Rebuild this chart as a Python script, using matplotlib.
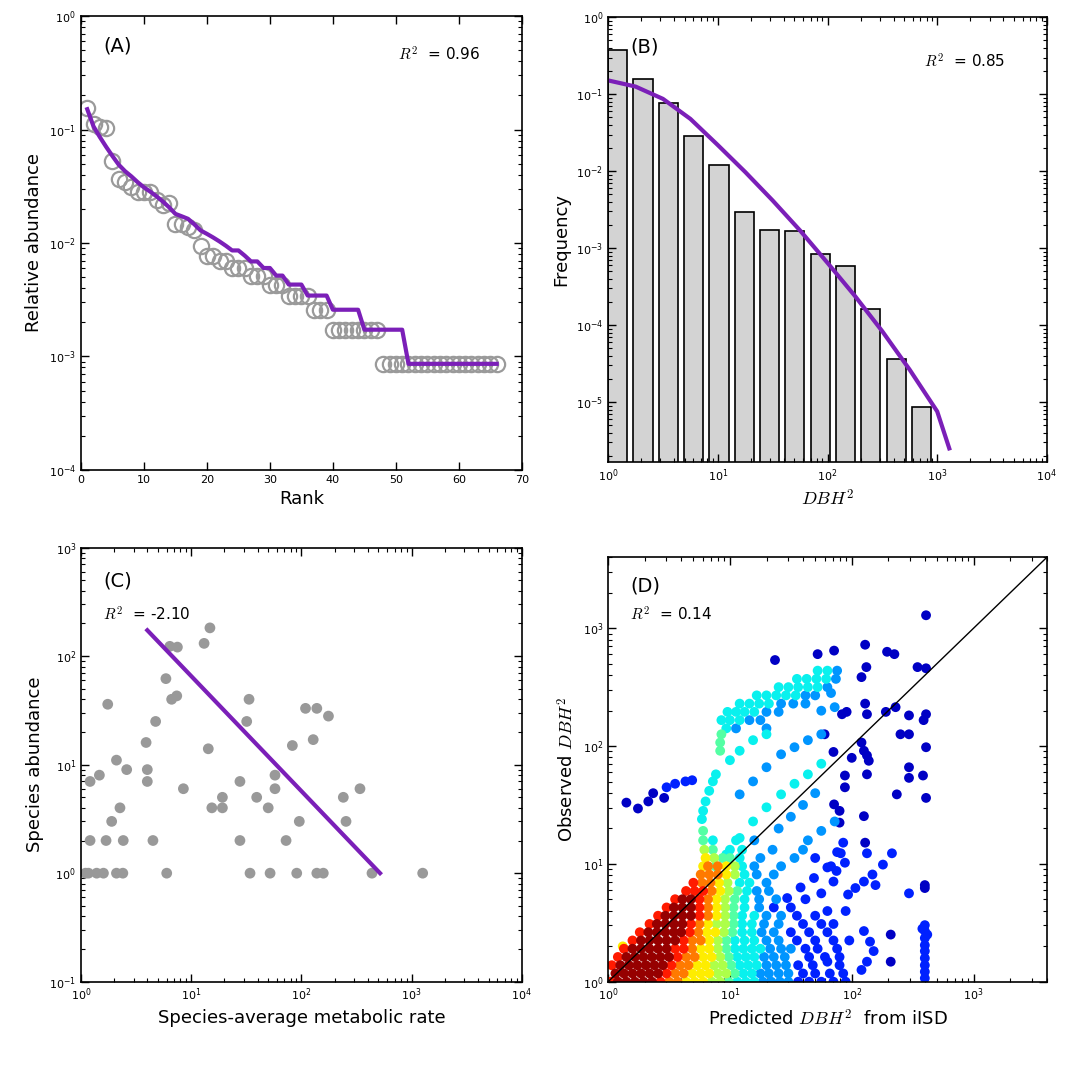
import numpy as np
import matplotlib
matplotlib.use("Agg")
import matplotlib.pyplot as plt

plt.rcParams["mathtext.fontset"] = "cm"
plt.rcParams["font.family"] = "DejaVu Sans"

PURPLE = "#7b1fb8"

# ---- (A) rank abundance: species counts (relative = count / total) ----
a_rank = list(range(1, 67))
a_counts = [182, 131, 123, 121, 62, 43, 40, 36, 33, 33, 33, 28, 25, 26, 17, 17,
            16, 15, 11, 9, 9, 8, 8, 7, 7, 7, 6, 6, 6, 5, 5, 5, 4, 4, 4, 4,
            3, 3, 3] + [2] * 8 + [1] * 19
a_pred = [176, 124, 100, 82, 68, 57, 50, 45, 40, 36, 33, 30, 27, 24, 21, 20,
          19, 17, 15, 14, 13, 12, 11, 10, 10, 9, 8, 8, 7, 7, 6, 6, 5, 5, 5,
          4, 4, 4, 4, 3, 3, 3, 3, 3] + [2] * 7 + [1] * 15
a_total = 1163

# ---- (B) DBH^2 histogram ----
b_edges = [1.0, 1.70, 2.90, 4.92, 8.38, 14.3, 24.3, 41.2, 70.2, 119, 204, 346, 589, 1000]
b_freq = [0.376, 0.157, 0.0776, 0.0285, 0.0119, 0.00293, 0.00174, 0.00167,
          0.00083, 0.000586, 0.000163, 3.65e-5, 8.6e-6]
b_fit_logx = [0, 0.25, 0.5, 0.75, 1.0, 1.25, 1.5, 1.75, 2.0, 2.25, 2.5, 2.75, 3.0, 3.11]
b_fit_logy = [-0.82, -0.9, -1.06, -1.32, -1.66, -2.01, -2.38, -2.77, -3.19,
              -3.62, -4.08, -4.58, -5.12, -5.6]

# ---- (C) species abundance vs metabolic rate ----
c_rate = [1.21, 1.47, 1.75, 2.1, 2.6, 1.9, 2.26, 1.21, 1.69, 2.42, 4.5, 1.1, 1.17,
          1.39, 1.6, 2.1, 2.4, 3.9, 4.0, 4.0, 4.76, 5.9, 6.0, 6.4, 7.5, 6.65, 7.4,
          8.5, 13.1, 14.8, 14.3, 15.4, 19.2, 19.2, 27.7, 27.7, 31.9, 33.5, 34.2,
          39.3, 50, 52, 57.6, 57.6, 72.6, 82.8, 90.7, 95.7, 109, 128, 138, 138,
          158, 176, 240, 254, 340, 437, 1260]
c_abund = [7, 8, 36, 11, 9, 3, 4, 2, 2, 2, 2, 1, 1, 1, 1, 1, 1, 16, 9, 7, 25, 62,
           1, 123, 121, 40, 43, 6, 131, 182, 14, 4, 5, 4, 7, 2, 25, 40, 1, 5, 4,
           1, 6, 8, 2, 15, 1, 3, 33, 17, 33, 1, 1, 28, 5, 3, 6, 1, 1]
c_fit_x = [4.0, 517]
c_fit_y = [173, 1]

# ---- (D) observed vs predicted DBH^2, log10 values read per density colour ----
# each entry: (log10 observed, [log10 predicted, ...])
d_dark = [
    (1.52, [0.15]), (1.47, [0.245]), (1.53, [0.33]), (1.60, [0.37]), (1.56, [0.46]),
    (3.11, [2.61]), (2.86, [2.11]), (2.81, [1.855]), (2.80, [2.29]), (2.78, [1.72, 2.35]),
    (2.73, [1.37]), (2.67, [2.12, 2.54]), (2.66, [2.61]), (2.585, [2.08]),
    (2.36, [2.11]), (2.33, [2.36]), (2.29, [1.958, 2.28]), (2.27, [1.92, 2.125, 2.61]),
    (2.26, [2.47]), (2.22, [2.59]), (2.10, [1.777, 2.40, 2.47]), (2.03, [2.08]),
    (1.99, [2.61]), (1.96, [2.10]), (1.95, [1.85]), (1.92, [2.125]),
    (1.90, [2.0]), (1.875, [2.14]), (1.82, [2.47]), (1.76, [2.125]),
    (1.75, [1.944, 2.585]), (1.73, [2.47]), (1.65, [1.944]), (1.59, [2.37]),
    (1.56, [2.61]), (1.505, [1.855]), (1.45, [1.90]), (1.405, [2.10]),
    (1.35, [1.90]), (1.18, [2.11]), (0.82, [2.6]), (0.795, [2.6]),
    (0.40, [2.32]), (0.17, [2.32]),
]
d_blue = [
    (1.71, [0.69]), (1.70, [0.635]), (1.68, [0.55]), (1.65, [0.48]),
    (1.18, [1.93]), (1.1, [1.88]), (1.09, [1.91, 2.125, 2.33]), (1.05, [1.7]),
    (1.01, [1.944]), (0.994, [2.256]), (0.98, [1.83]), (0.97, [1.80]),
    (0.94, [1.875]), (0.91, [2.17]), (0.88, [1.69]), (0.85, [1.85, 2.10]),
    (0.82, [2.195]), (0.80, [1.58]), (0.795, [2.03]), (0.75, [1.75, 2.47]),
    (0.74, [1.97]), (0.71, [1.47]), (0.70, [1.62]), (0.63, [1.36, 1.5]),
    (0.6, [1.8, 1.95]), (0.56, [1.55, 1.7]), (0.49, [1.6, 1.75, 1.85]),
    (0.48, [2.6]), (0.45, [2.58]), (0.43, [2.10, 2.6]), (0.42, [1.5, 1.65, 1.8]),
    (0.40, [2.62]), (0.37, [2.6]), (0.35, [1.55, 1.7, 1.85, 1.98]), (0.34, [2.15]),
    (0.31, [2.6]), (0.28, [1.62, 1.72, 1.88]), (0.26, [2.18, 2.6]),
    (0.21, [1.65, 1.78, 1.9]), (0.20, [2.6]), (0.17, [1.8, 2.125]),
    (0.14, [1.56, 1.68, 1.9, 2.6]), (0.10, [2.08]), (0.085, [2.6]),
    (0.07, [1.6, 1.7, 1.82, 1.93]), (0.03, [2.6]),
    (0.0, [1.56, 1.65, 1.75, 1.85, 1.95]),
]
d_light = [
    (2.64, [1.88]), (2.57, [1.87]), (2.50, [1.8]), (2.45, [1.83]),
    (2.43, [1.62, 1.7]), (2.36, [1.42, 1.52, 1.62]), (2.33, [1.86]),
    (2.30, [1.75]), (2.29, [1.3, 1.4]), (2.22, [1.16, 1.25]), (2.15, [1.05, 1.3]),
    (2.10, [1.75]), (2.05, [1.64]), (1.99, [1.53]), (1.93, [1.42]), (1.82, [1.30]),
    (1.70, [1.19]), (1.6, [1.7]), (1.59, [1.08]), (1.5, [1.6]), (1.4, [1.5]),
    (1.36, [1.86]), (1.3, [1.4]), (1.28, [1.75]), (1.2, [1.2, 1.64]),
    (1.12, [1.35, 1.6]), (1.05, [1.25, 1.53]), (0.98, [1.2, 1.42]),
    (0.91, [1.22, 1.36]), (0.84, [1.3]), (0.77, [1.22, 1.32]), (0.70, [1.24, 1.38]),
    (0.63, [1.24]), (0.56, [1.3, 1.42]), (0.49, [1.28, 1.4]), (0.42, [1.26, 1.36]),
    (0.35, [1.3, 1.4]), (0.28, [1.33, 1.42, 1.5]), (0.21, [1.28, 1.36, 1.45]),
    (0.14, [1.3, 1.38, 1.46]), (0.07, [1.25, 1.32, 1.4, 1.48]),
    (0.0, [1.27, 1.34, 1.41, 1.48]),
]
d_cyan = [
    (2.64, [1.72, 1.8]), (2.57, [1.55, 1.63, 1.71, 1.79]),
    (2.50, [1.4, 1.48, 1.56, 1.64, 1.72]), (2.43, [1.22, 1.3, 1.38, 1.46, 1.54]),
    (2.36, [1.08, 1.16, 1.24, 1.32]), (2.29, [0.98, 1.05, 1.12, 1.2]),
    (2.22, [0.93, 1.0, 1.08]), (2.15, [0.97]), (2.10, [1.30]), (2.05, [1.19]),
    (1.96, [1.08]), (1.88, [1.0]), (1.85, [1.75]), (1.76, [0.885, 1.64]),
    (1.70, [0.86]), (1.68, [1.53]), (1.62, [0.83]), (1.59, [1.42]),
    (1.53, [0.8]), (1.48, [1.30]), (1.45, [0.78]), (1.38, [0.77]),
    (1.36, [1.19]), (1.22, [1.08]), (1.2, [0.86, 1.05]), (1.12, [1.0, 1.1]),
    (1.08, [0.97]), (1.05, [1.08]), (0.98, [1.1]), (0.91, [1.12]),
    (0.84, [1.08, 1.16]), (0.77, [1.14]), (0.70, [1.12]), (0.63, [1.12]),
    (0.56, [1.1, 1.2]), (0.49, [1.1, 1.18]), (0.42, [1.1, 1.18]),
    (0.35, [1.04, 1.12, 1.2]), (0.28, [1.04, 1.11, 1.18, 1.25]),
    (0.21, [1.06, 1.13, 1.2]), (0.14, [1.08, 1.15, 1.22]), (0.07, [1.11, 1.18]),
    (0.0, [1.06, 1.13, 1.2]),
]
d_teal = [
    (2.10, [0.93]), (2.03, [0.92]), (1.96, [0.92]), (1.28, [0.78]), (1.2, [0.78]),
    (1.12, [0.86]), (1.05, [0.94, 1.0]), (0.98, [0.88]), (0.77, [1.06]),
    (0.70, [1.04]), (0.63, [1.03]), (0.56, [1.03]), (0.49, [1.03]),
    (0.42, [1.02]), (0.35, [0.97]), (0.28, [0.97]), (0.21, [0.99]),
    (0.14, [1.01]), (0.07, [1.04]), (0.0, [0.99]),
]
d_lime = [
    (1.12, [0.79]), (1.05, [0.87]), (0.98, [1.04]), (0.91, [1.04]), (0.84, [0.98]),
    (0.77, [0.99]), (0.70, [0.96]), (0.63, [0.96]), (0.56, [0.96]),
    (0.49, [0.89, 0.96]), (0.42, [0.95]), (0.35, [0.9]), (0.28, [0.9]),
    (0.21, [0.92]), (0.14, [0.87, 0.94]), (0.07, [0.9, 0.97]), (0.0, [0.85, 0.92]),
]
d_yellow = [
    (1.05, [0.8]), (0.98, [0.78, 0.97]), (0.91, [0.97]), (0.84, [0.91]),
    (0.77, [0.92]), (0.70, [0.89]), (0.63, [0.89]), (0.56, [0.89]), (0.49, [0.82]),
    (0.42, [0.81, 0.88]), (0.35, [0.83]), (0.30, [0.12]), (0.28, [0.76, 0.83]),
    (0.21, [0.78, 0.85]), (0.14, [0.73, 0.8]), (0.07, [0.69, 0.76, 0.83]),
    (0.0, [0.64, 0.71, 0.78]),
]
d_orange = [
    (0.98, [0.82, 0.9]), (0.91, [0.76, 0.83, 0.9]), (0.84, [0.77, 0.84]),
    (0.77, [0.85]), (0.70, [0.82]), (0.63, [0.82]), (0.56, [0.82]), (0.49, [0.75]),
    (0.42, [0.74]), (0.35, [0.69, 0.76]), (0.28, [0.69]), (0.21, [0.64, 0.71]),
    (0.14, [0.59, 0.66]), (0.07, [0.55, 0.62]), (0.0, [0.5, 0.57]),
]
d_red = [
    (0.84, [0.7]), (0.77, [0.64, 0.71, 0.78]), (0.70, [0.55, 0.75]),
    (0.63, [0.48, 0.75]), (0.56, [0.41, 0.75]), (0.49, [0.34, 0.68]),
    (0.42, [0.26, 0.67]), (0.35, [0.2, 0.62]), (0.28, [0.13, 0.55, 0.62]),
    (0.21, [0.08, 0.57]), (0.14, [0.03, 0.52]), (0.07, [0.48]), (0.0, [0.02, 0.43]),
]
d_darkred = [
    (0.70, [0.61, 0.68]), (0.63, [0.54, 0.61, 0.68]), (0.56, [0.47, 0.54, 0.61, 0.68]),
    (0.49, [0.4, 0.47, 0.54, 0.61]), (0.42, [0.33, 0.4, 0.47, 0.54, 0.6]),
    (0.35, [0.27, 0.34, 0.41, 0.48, 0.55]), (0.28, [0.2, 0.27, 0.34, 0.41, 0.48]),
    (0.21, [0.15, 0.22, 0.29, 0.36, 0.43, 0.50]),
    (0.14, [0.10, 0.17, 0.24, 0.31, 0.38, 0.45]),
    (0.07, [0.06, 0.13, 0.2, 0.27, 0.34, 0.41]),
    (0.0, [0.08, 0.15, 0.22, 0.29, 0.36]),
]
d_groups = [(d_dark, 0.06), (d_blue, 0.16), (d_light, 0.27), (d_cyan, 0.36),
            (d_teal, 0.45), (d_lime, 0.56), (d_yellow, 0.66), (d_orange, 0.78),
            (d_red, 0.88), (d_darkred, 0.98)]


def style_axes(ax):
    ax.tick_params(which="both", direction="in", top=True, right=True, labelsize=8)
    ax.tick_params(which="major", length=6, width=1)
    ax.tick_params(which="minor", length=3, width=0.8)
    for sp in ax.spines.values():
        sp.set_linewidth(1.2)


fig = plt.figure(figsize=(10.65, 10.8), dpi=100)
axA = fig.add_axes([0.076, 0.565, 0.414, 0.420])
axB = fig.add_axes([0.571, 0.572, 0.412, 0.412])
axC = fig.add_axes([0.076, 0.091, 0.414, 0.402])
axD = fig.add_axes([0.571, 0.091, 0.412, 0.393])

# (A)
rel = np.array(a_counts) / a_total
pred = np.array(a_pred) / a_total
axA.plot(a_rank, rel, "o", mfc="none", mec="#9a9a9a", ms=11, mew=1.6)
axA.plot(a_rank, pred, color=PURPLE, lw=3)
axA.set_yscale("log")
axA.set_xlim(0, 70)
axA.set_ylim(1e-4, 1)
axA.set_xticks(range(0, 71, 10))
axA.set_xlabel("Rank", fontsize=13)
axA.set_ylabel("Relative abundance", fontsize=13)
axA.text(0.05, 0.955, "(A)", transform=axA.transAxes, fontsize=14, va="top")
axA.text(0.72, 0.915, r"$R^2$  = 0.96", transform=axA.transAxes, fontsize=11, va="center")
style_axes(axA)

# (B)
edges = np.array(b_edges)
axB.bar(edges[:-1], b_freq, width=0.7 * np.diff(edges), align="edge",
        color="#d3d3d3", edgecolor="black", linewidth=1.2)
axB.plot(10 ** np.array(b_fit_logx), 10 ** np.array(b_fit_logy), color=PURPLE, lw=3)
axB.set_xscale("log")
axB.set_yscale("log")
axB.set_xlim(1, 1e4)
axB.set_ylim(10 ** -5.78, 1)
axB.set_xlabel(r"$DBH^2$", fontsize=13)
axB.set_ylabel("Frequency", fontsize=13)
axB.text(0.05, 0.955, "(B)", transform=axB.transAxes, fontsize=14, va="top")
axB.text(0.72, 0.9, r"$R^2$  = 0.85", transform=axB.transAxes, fontsize=11, va="center")
style_axes(axB)

# (C)
axC.scatter(c_rate, c_abund, s=60, color="#999999", edgecolors="none", zorder=2)
axC.plot(c_fit_x, c_fit_y, color=PURPLE, lw=3, zorder=3)
axC.set_xscale("log")
axC.set_yscale("log")
axC.set_xlim(1, 1e4)
axC.set_ylim(0.1, 1000)
axC.set_xlabel("Species-average metabolic rate", fontsize=13)
axC.set_ylabel("Species abundance", fontsize=13)
axC.text(0.05, 0.945, "(C)", transform=axC.transAxes, fontsize=14, va="top")
axC.text(0.05, 0.846, r"$R^2$  = -2.10", transform=axC.transAxes, fontsize=11, va="center")
style_axes(axC)

# (D) low-density colours first, dense core on top
for rows, cval in d_groups:
    xs = [10 ** lx for ly, lxs in rows for lx in lxs]
    ys = [10 ** ly for ly, lxs in rows for lx in lxs]
    axD.scatter(xs, ys, s=50, color=plt.cm.jet(cval), edgecolors="none", zorder=2)
lim = [1, 4000]
axD.plot(lim, lim, color="black", lw=1, zorder=3)
axD.set_xscale("log")
axD.set_yscale("log")
axD.set_xlim(lim)
axD.set_ylim(lim)
axD.set_xlabel(r"Predicted $DBH^2$  from iISD", fontsize=13)
axD.set_ylabel(r"Observed $DBH^2$", fontsize=13)
axD.text(0.05, 0.955, "(D)", transform=axD.transAxes, fontsize=14, va="top")
axD.text(0.05, 0.866, r"$R^2$  = 0.14", transform=axD.transAxes, fontsize=11, va="center")
style_axes(axD)

fig.savefig("out.png", dpi=100)
